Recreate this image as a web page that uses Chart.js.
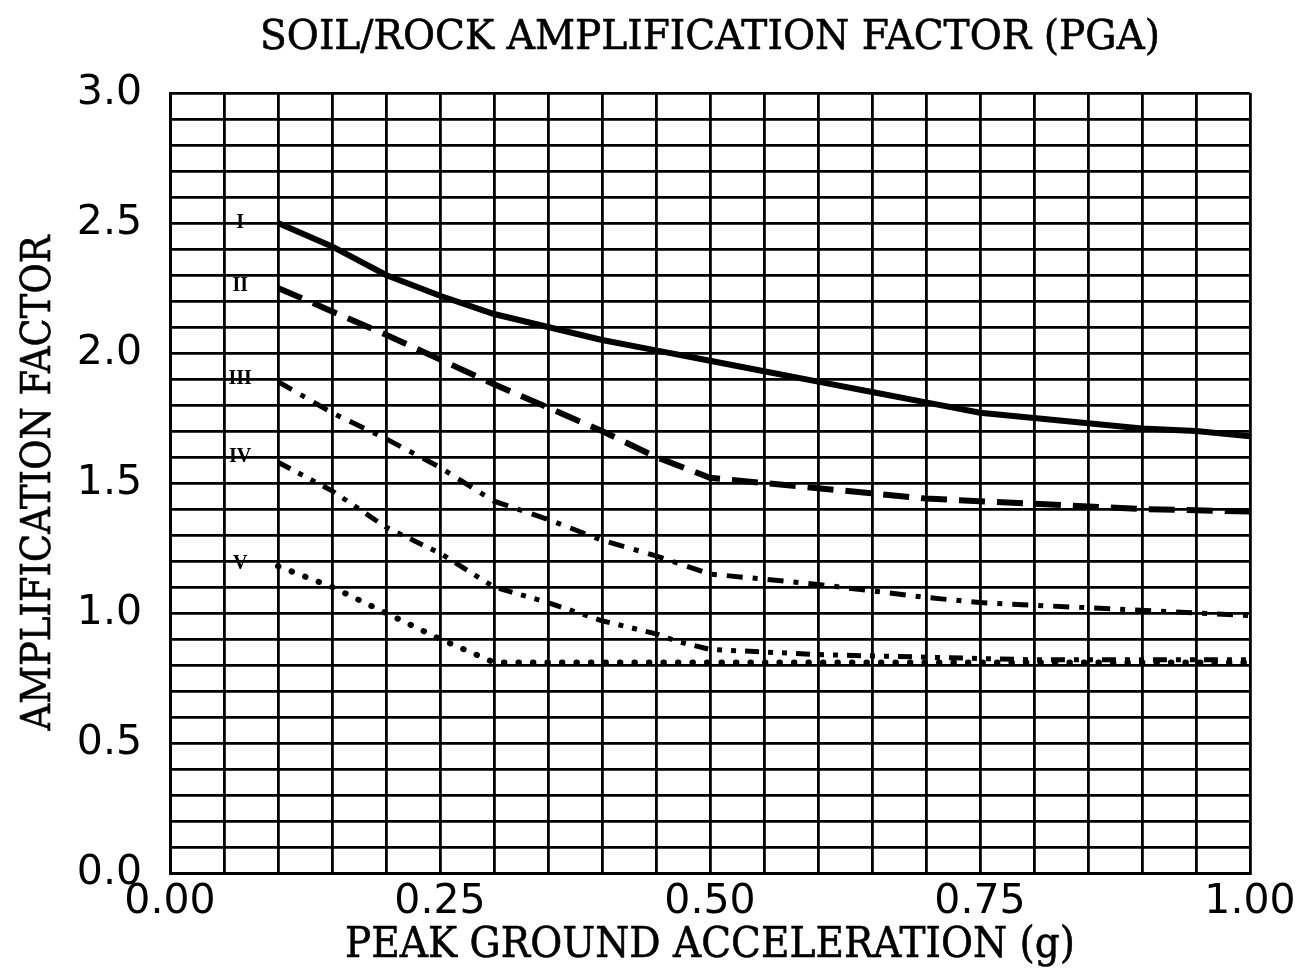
<!DOCTYPE html>
<html>
<head>
<meta charset="utf-8">
<script src="https://cdn.jsdelivr.net/npm/chart.js@4/dist/chart.umd.min.js"></script>
<style>
  body { margin: 0; background: #fff; }
  canvas { display: block; }
</style>
</head>
<body>
<canvas id="chartPga" width="1307" height="975"></canvas>
<script>
// Courbes (PGA en g, facteur d'amplification)
const pgaI = [0.10, 0.15, 0.20, 0.25, 0.30, 0.35, 0.40, 0.45, 0.50, 0.55, 0.60, 0.65, 0.70, 0.75, 0.80, 0.85, 0.90, 0.95, 1.00];
const ampI = [2.50, 2.41, 2.30, 2.22, 2.15, 2.10, 2.05, 2.01, 1.97, 1.93, 1.89, 1.85, 1.81, 1.77, 1.75, 1.73, 1.71, 1.70, 1.68];

const pgaII = [0.10, 0.20, 0.30, 0.40, 0.45, 0.50, 0.60, 0.70, 0.80, 0.90, 1.00];
const ampII = [2.25, 2.07, 1.88, 1.70, 1.60, 1.52, 1.48, 1.44, 1.42, 1.40, 1.39];

const pgaIII = [0.10, 0.15, 0.20, 0.25, 0.30, 0.35, 0.40, 0.45, 0.50, 0.55, 0.60, 0.70, 0.75, 0.85, 1.00];
const ampIII = [1.89, 1.77, 1.67, 1.56, 1.43, 1.36, 1.28, 1.22, 1.15, 1.13, 1.11, 1.06, 1.04, 1.02, 0.99];

const pgaIV = [0.10, 0.15, 0.20, 0.25, 0.30, 0.35, 0.40, 0.45, 0.47, 0.50, 0.60, 0.70, 0.80, 0.90, 1.00];
const ampIV = [1.58, 1.47, 1.33, 1.23, 1.10, 1.04, 0.97, 0.92, 0.89, 0.86, 0.84, 0.83, 0.82, 0.82, 0.82];

const pgaV = [0.10, 0.15, 0.20, 0.25, 0.30, 1.00];
const ampV = [1.18, 1.10, 1.00, 0.90, 0.81, 0.81];

// Étiquettes des courbes (classes de sol)
const curveNames = ["I", "II", "III", "IV", "V"];
const curveNamePga = 0.065;
const curveNameAmp = [2.50, 2.26, 1.90, 1.60, 1.19];

const titleText = "SOIL/ROCK AMPLIFICATION FACTOR (PGA)";
const xTitleText = "PEAK GROUND ACCELERATION (g)";
const yTitleText = "AMPLIFICATION FACTOR";

const xTickStep = 0.05;
const yTickStep = 0.1;

function points(xs, ys) {
  return xs.map((x, i) => ({ x: x, y: ys[i] }));
}

// Texte à empattements, resserré pour tenir dans la largeur voulue
function drawFitted(ctx, text, x, y, size, width, rotation) {
  ctx.save();
  ctx.font = size + 'px "DejaVu Serif"';
  const sx = width / ctx.measureText(text).width;
  ctx.translate(x, y);
  ctx.rotate(rotation);
  ctx.scale(sx, 1);
  ctx.fillStyle = "#000";
  ctx.strokeStyle = "#000";
  ctx.lineWidth = 0.6;
  ctx.textAlign = "center";
  ctx.textBaseline = "middle";
  ctx.fillText(text, 0, 0);
  ctx.strokeText(text, 0, 0);
  ctx.restore();
}

// Titres + noms des courbes I..V
const textPlugin = {
  id: "textPlugin",
  afterDraw(chart) {
    const { ctx, scales, chartArea } = chart;
    const cx = (chartArea.left + chartArea.right) / 2;
    const cy = (chartArea.top + chartArea.bottom) / 2;
    drawFitted(ctx, titleText, cx, 38, 41, 900, 0);
    drawFitted(ctx, xTitleText, cx, 946, 42, 730, 0);
    drawFitted(ctx, yTitleText, 39, cy, 41, 495, -Math.PI / 2);

    ctx.save();
    ctx.fillStyle = "#000";
    ctx.font = 'bold 20px "Liberation Serif"';
    ctx.textAlign = "center";
    ctx.textBaseline = "middle";
    curveNames.forEach((name, i) => {
      ctx.fillText(name, scales.x.getPixelForValue(curveNamePga), scales.y.getPixelForValue(curveNameAmp[i]));
    });
    ctx.restore();
  }
};

const common = { fill: false, pointRadius: 0, borderColor: "#000", tension: 0, showLine: true };

const ctxPga = document.getElementById("chartPga").getContext("2d");

const chartPga = new Chart(ctxPga, {
  type: "scatter",
  data: {
    datasets: [
      { ...common, label: "I", data: points(pgaI, ampI), borderWidth: 6 },
      { ...common, label: "II", data: points(pgaII, ampII), borderWidth: 6, borderDash: [26, 12] },
      { ...common, label: "III", data: points(pgaIII, ampIII), borderWidth: 5, borderDash: [16, 10, 5, 10] },
      { ...common, label: "IV", data: points(pgaIV, ampIV), borderWidth: 5, borderDash: [14, 9, 5, 9, 5, 9] },
      { ...common, label: "V", data: points(pgaV, ampV), borderWidth: 6, borderCapStyle: "round", borderDash: [0.5, 14] }
    ]
  },
  options: {
    responsive: false,
    animation: false,
    layout: { padding: { top: 93, right: 57, bottom: 0, left: 0 } },
    plugins: {
      legend: { display: false },
      tooltip: { enabled: false },
      title: { display: false }
    },
    scales: {
      x: {
        type: "linear",
        min: 0,
        max: 1,
        afterFit(scale) { scale.height = 102; },
        grid: { color: "#000", lineWidth: 2.8, drawTicks: false },
        border: { color: "#000", width: 3 },
        ticks: {
          stepSize: xTickStep,
          padding: 5,
          color: "#000",
          maxRotation: 0,
          autoSkip: false,
          font: { family: '"DejaVu Sans"', size: 41, lineHeight: 1.2 },
          callback: (v) => (Math.abs(v * 4 - Math.round(v * 4)) < 1e-6 ? v.toFixed(2) : "")
        }
      },
      y: {
        min: 0,
        max: 3,
        afterFit(scale) { scale.width = 170; },
        grid: { color: "#000", lineWidth: 2.8, drawTicks: false },
        border: { color: "#000", width: 3 },
        ticks: {
          stepSize: yTickStep,
          padding: 28,
          color: "#000",
          autoSkip: false,
          font: { family: '"DejaVu Sans"', size: 41, lineHeight: 1.2 },
          callback: (v) => (Math.abs(v * 2 - Math.round(v * 2)) < 1e-6 ? v.toFixed(1) : "")
        }
      }
    }
  },
  plugins: [textPlugin]
});
</script>
</body>
</html>
